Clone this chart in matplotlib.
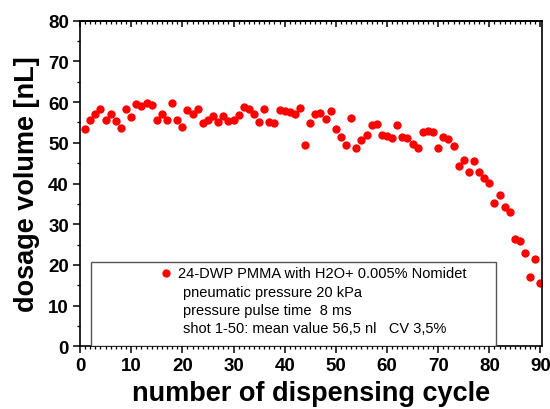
import matplotlib.pyplot as plt
from matplotlib.patches import Rectangle
from matplotlib.ticker import MultipleLocator

plt.rcParams['font.family'] = ['Liberation Sans', 'DejaVu Sans']

# dispensing cycle number and measured dosage volume [nL]
cycles = list(range(1, 92))
volume = [
    53.4, 55.5, 57.2, 58.4, 55.5, 57.1, 55.4, 53.7, 58.4, 56.4,
    59.6, 59.0, 59.9, 59.4, 55.6, 57.1, 55.5, 59.7, 55.6, 53.9,
    58.1, 57.0, 58.2, 54.8, 55.5, 56.7, 55.2, 56.6, 55.3, 55.7,
    56.8, 58.7, 58.2, 57.0, 55.0, 58.2, 55.2, 54.8, 58.1, 57.9,
    57.6, 57.1, 58.5, 49.5, 54.8, 57.1, 57.4, 55.8, 57.7, 53.4,
    51.5, 49.5, 56.0, 48.7, 50.6, 51.9, 54.4, 54.6, 52.0, 51.7,
    51.2, 54.4, 51.4, 51.3, 49.8, 48.7, 52.6, 52.8, 52.7, 48.7,
    51.5, 50.9, 49.3, 44.4, 45.8, 42.8, 45.6, 42.8, 41.4, 40.2,
    35.2, 37.2, 34.2, 32.9, 26.4, 25.8, 22.9, 17.1, 21.5, 15.6,
    15.1,
]

legend_lines = [
    '24-DWP PMMA with H2O+ 0.005% Nomidet',
    'pneumatic pressure 20 kPa',
    'pressure pulse time  8 ms',
    'shot 1-50: mean value 56,5 nl   CV 3,5%',
]

fig = plt.figure(figsize=(5.5, 4.1), dpi=100)
ax = fig.add_axes([0.1455, 0.153, 0.84, 0.794])

ax.plot(cycles, volume, 'o', color='red', markersize=6, markeredgewidth=0)

ax.set_xlim(0, 90.3)
ax.set_ylim(0, 80)
ax.xaxis.set_major_locator(MultipleLocator(10))
ax.xaxis.set_minor_locator(MultipleLocator(1))
ax.yaxis.set_major_locator(MultipleLocator(10))
ax.yaxis.set_minor_locator(MultipleLocator(5))
ax.tick_params(which='major', direction='out', length=5, width=1.1,
               labelsize=13.5, pad=3)
ax.tick_params(which='minor', direction='out', length=2.5, width=0.9)
for lab in ax.get_xticklabels() + ax.get_yticklabels():
    lab.set_fontweight('bold')

# ticks on the top axis point inward, no labels
top = ax.secondary_xaxis('top')
top.xaxis.set_major_locator(MultipleLocator(10))
top.xaxis.set_minor_locator(MultipleLocator(1))
top.tick_params(which='major', direction='in', length=4, width=1.1, labeltop=False)
top.tick_params(which='minor', direction='in', length=2, width=0.9)

for s in ax.spines.values():
    s.set_linewidth(1.2)
top.spines['top'].set_linewidth(1.2)

ax.set_xlabel('number of dispensing cycle', fontsize=19.5, fontweight='bold', labelpad=4)
ax.set_ylabel('dosage volume [nL]', fontsize=19.5, fontweight='bold', labelpad=6)

# legend box
ax.add_patch(Rectangle((0.024, 0.0), 0.876, 0.258, transform=ax.transAxes,
                       facecolor='white', edgecolor='#555555', linewidth=1.0, zorder=3))
ax.plot([0.1855], [0.225], 'o', color='red', markersize=6, markeredgewidth=0,
        transform=ax.transAxes, zorder=4, clip_on=False)
ax.text(0.2115, 0.225, legend_lines[0], transform=ax.transAxes, fontsize=10.5,
        va='center', ha='left', zorder=4)
for i, line in enumerate(legend_lines[1:]):
    ax.text(0.222, 0.168 - i * 0.0565, line, transform=ax.transAxes, fontsize=10.5,
            va='center', ha='left', zorder=4)

fig.savefig('out.png', dpi=100)
